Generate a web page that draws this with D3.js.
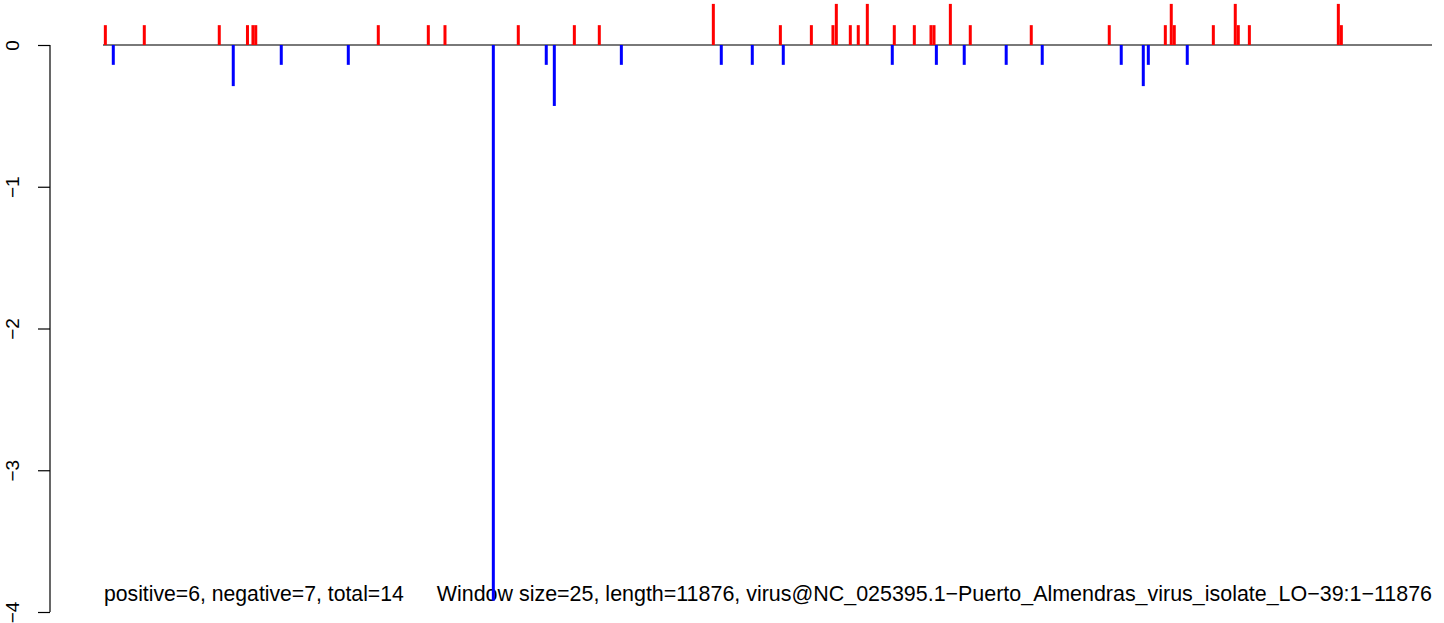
<!DOCTYPE html>
<html>
<head>
<meta charset="utf-8">
<script src="https://cdn.jsdelivr.net/npm/d3@7"></script>
<style>
html,body{margin:0;padding:0;background:#fff;}
svg{display:block;}
text{font-family:"Liberation Sans",Arial,sans-serif;fill:#000;}
</style>
</head>
<body>
<svg id="chart" width="1444" height="623"></svg>
<script>
// Genome positions (window starts) and scores
const seqLength = 11876;
const posPositions = [21,369,1039,1291,1340,1365,2460,2907,3056,3711,4212,4435,5454,6053,6330,6523,6553,6678,6749,6830,7071,7250,7399,7426,7572,7750,8295,8992,9493,9546,9573,9922,10118,10145,10244,11039,11066];
const posValues =    [0.14,0.14,0.14,0.14,0.14,0.14,0.14,0.14,0.14,0.14,0.14,0.14,0.29,0.14,0.14,0.14,0.29,0.14,0.14,0.29,0.14,0.14,0.14,0.14,0.29,0.14,0.14,0.14,0.14,0.29,0.14,0.14,0.29,0.14,0.14,0.29,0.14];
const negPositions = [92,1164,1593,2192,3488,3961,4033,4632,5525,5802,6079,7053,7447,7696,8071,8393,9099,9296,9341,9689];
const negValues =    [-0.14,-0.29,-0.14,-0.14,-3.92,-0.14,-0.43,-0.14,-0.14,-0.14,-0.14,-0.14,-0.14,-0.14,-0.14,-0.14,-0.14,-0.29,-0.14,-0.14];
const yTicks = [0,-1,-2,-3,-4];
const leftLabel = "positive=6, negative=7, total=14";
const rightLabel = "Window size=25, length=11876, virus@NC_025395.1\u2212Puerto_Almendras_virus_isolate_LO\u221239:1\u221211876";

const svg = d3.select("#chart");
const x = d3.scaleLinear().domain([0, seqLength]).range([103, 1432]);
const y = d3.scaleLinear().domain([-4, 0]).range([612, 45]);

// bottom labels (under the bars)
svg.append("text")
  .attr("x", 104).attr("y", 601)
  .style("font-size", "21.2px")
  .text(leftLabel);
svg.append("text")
  .attr("x", 1432).attr("y", 601)
  .attr("text-anchor", "end")
  .style("font-size", "21.45px")
  .text(rightLabel);

// baseline
svg.append("line")
  .attr("x1", x(0)).attr("x2", x(seqLength))
  .attr("y1", y(0)).attr("y2", y(0))
  .attr("stroke", "#4d4d4d").attr("stroke-width", 1.3);

const barW = 3;
svg.append("g").selectAll("rect")
  .data(posPositions.map((p,i)=>({p, v: posValues[i]})))
  .join("rect")
  .attr("x", d => x(d.p) - barW/2)
  .attr("y", d => y(d.v))
  .attr("width", barW)
  .attr("height", d => y(0) - y(d.v))
  .attr("fill", "#ff0000");

svg.append("g").selectAll("rect")
  .data(negPositions.map((p,i)=>({p, v: negValues[i]})))
  .join("rect")
  .attr("x", d => x(d.p) - barW/2)
  .attr("y", y(0))
  .attr("width", barW)
  .attr("height", d => y(d.v) - y(0))
  .attr("fill", "#0000ff");

// y axis
const axis = d3.axisLeft(y).tickValues(yTicks).tickSize(12)
  .tickFormat(d => d < 0 ? "\u2212" + Math.abs(d) : String(d));
const gA = svg.append("g").attr("transform", "translate(50,0)").call(axis);
gA.select(".domain").attr("stroke", "#000").attr("stroke-width", 1.2).attr("d", `M0,${y(0)}V${y(-4)}`);
gA.selectAll(".tick line").attr("stroke", "#000").attr("stroke-width", 1.2);
gA.selectAll(".tick text")
  .attr("transform", "rotate(-90)")
  .attr("x", 0).attr("y", -31)
  .attr("dy", 0)
  .attr("text-anchor", "middle")
  .style("font-size", "19px")
  .style("font-family", "Liberation Sans, Arial, sans-serif")
  .attr("fill", "#000");
</script>
</body>
</html>
